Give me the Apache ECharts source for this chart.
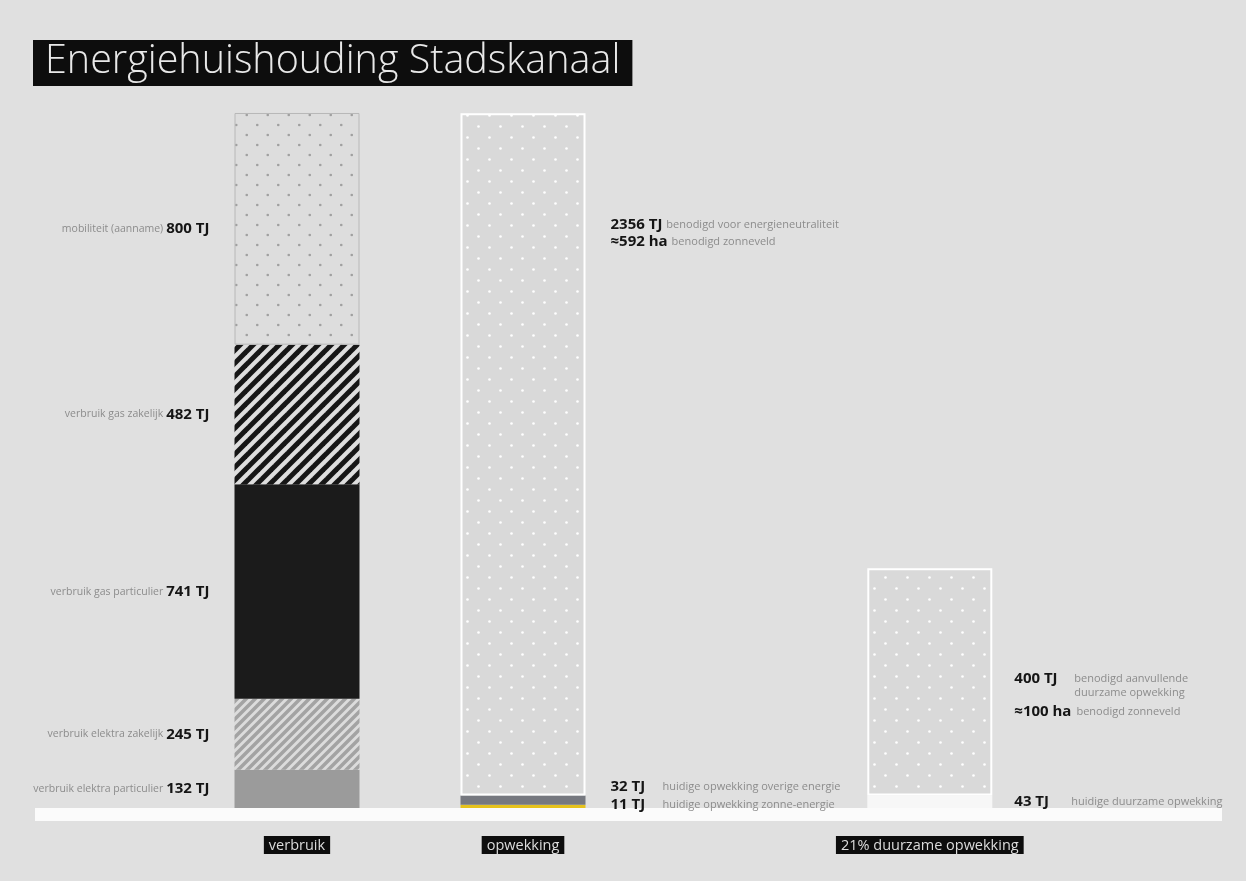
<!DOCTYPE html>
<html>
<head>
<meta charset="utf-8">
<script src="https://cdn.jsdelivr.net/npm/echarts@6/dist/echarts.min.js"></script>
<style>
html,body{margin:0;padding:0;background:#e0e0e0;}
#c{width:1246px;height:881px;}
</style>
</head>
<body>
<div id="c"></div>
<script>
// ---- data ----
const titleText = 'Energiehuishouding Stadskanaal';
const categories = ['verbruik', 'opwekking', '21% duurzame opwekking'];

const verbruikLabels = ['verbruik elektra particulier', 'verbruik elektra zakelijk', 'verbruik gas particulier', 'verbruik gas zakelijk', 'mobiliteit (aanname)'];
const verbruikValues = [132, 245, 741, 482, 800];

const opwekkingLabels = ['huidige opwekking zonne-energie', 'huidige opwekking overige energie', 'benodigd voor energieneutraliteit'];
const opwekkingValues = [11, 32, 2356];
const opwekkingHa = 592;

const duurzaamLabels = ['huidige duurzame opwekking', 'benodigd aanvullende|duurzame opwekking'];
const duurzaamLabelValues = [43, 400];
const duurzaamBarValues = [43, 785];   // bar heights as drawn in the picture
const duurzaamHa = 100;

// ---- patterns ----
function dots(bg, dot, w, h, r) {
  const c = document.createElement('canvas'); c.width = w; c.height = h;
  const g = c.getContext('2d');
  g.fillStyle = bg; g.fillRect(0, 0, w, h);
  g.fillStyle = dot;
  [[w / 4, h / 4], [3 * w / 4, 3 * h / 4]].forEach(p => { g.beginPath(); g.arc(p[0], p[1], r, 0, Math.PI * 2); g.fill(); });
  return { image: c, repeat: 'repeat' };
}
function stripes(bg, fg, s, lw) {
  const c = document.createElement('canvas'); c.width = s; c.height = s;
  const g = c.getContext('2d');
  g.fillStyle = bg; g.fillRect(0, 0, s, s);
  g.strokeStyle = fg; g.lineWidth = lw;
  [[0, s, s, 0], [-s / 2, s / 2, s / 2, -s / 2], [s / 2, 3 * s / 2, 3 * s / 2, s / 2]].forEach(l => {
    g.beginPath(); g.moveTo(l[0], l[1]); g.lineTo(l[2], l[3]); g.stroke();
  });
  return { image: c, repeat: 'repeat' };
}

const verbruikFills = [
  { color: '#9b9b9b' },
  { color: stripes('#dcdcdc', '#a3a3a3', 9, 3.5) },
  { color: '#1b1b1b' },
  { color: stripes('#dedede', '#161616', 13, 5) },
  { color: dots('#dddddd', '#a0a0a0', 21, 20, 1.3), borderColor: '#b8b8b8', borderWidth: 1 }
];
const opwekkingFills = [
  { color: '#e6c21c' },
  { color: '#76787f' },
  { color: dots('#d9d9d9', '#ffffff', 22, 22, 1.3), borderColor: '#ffffff', borderWidth: 2 }
];
const duurzaamFills = [
  { color: '#f7f7f7' },
  { color: dots('#d9d9d9', '#ffffff', 22, 22, 1.3), borderColor: '#ffffff', borderWidth: 2 }
];

// ---- layout ----
const N = 17;
const SLOT = [1, 6, 15];
function at(slot, v) { const a = new Array(N).fill('-'); a[slot] = v; return a; }
const axisNames = new Array(N).fill('');
SLOT.forEach((s, i) => axisNames[s] = categories[i]);

const FONT = 'Open Sans';
const GRAY = '#8c8c8c';
const richBase = {
  s: { fontFamily: FONT, fontSize: 10.5, color: GRAY, padding: [0, 3, 0, 0] },
  b: { fontFamily: FONT, fontSize: 15, fontWeight: 'bold', color: '#151515' }
};

const series = [];
verbruikValues.forEach((v, i) => {
  series.push({
    type: 'bar', stack: 's', barWidth: 125, data: at(SLOT[0], v),
    itemStyle: verbruikFills[i],
    label: {
      show: true, position: 'left', distance: 25,
      formatter: () => `{s|${verbruikLabels[i]}}{b|${v} TJ}`,
      rich: richBase
    }
  });
});

const B = { fontFamily: FONT, fontSize: 15, fontWeight: 'bold', color: '#151515' };
const S = { fontFamily: FONT, fontSize: 11, color: GRAY };
const richRight = {
  s: Object.assign({}, S, { lineHeight: 17 }),
  b: Object.assign({}, B, { lineHeight: 17, padding: [0, 4, 0, 0] }),
  b52: Object.assign({}, B, { width: 52, lineHeight: 17 }),
  b57: Object.assign({}, B, { width: 57, lineHeight: 17 }),
  b60: Object.assign({}, B, { width: 60, lineHeight: 14 }),
  s14: Object.assign({}, S, { lineHeight: 14 }),
  bh: Object.assign({}, B, { padding: [0, 5, 0, 0], lineHeight: 24 }),
  sh: Object.assign({}, S, { lineHeight: 24 })
};

opwekkingValues.forEach((v, i) => {
  let label;
  if (i === 2) {
    label = {
      show: true, position: ['100%', 103], offset: [25, 0], align: 'left', verticalAlign: 'top',
      formatter: () => `{b|${v} TJ}{s|${opwekkingLabels[i]}}\n{b|≈${opwekkingHa} ha}{s|benodigd zonneveld}`,
      rich: richRight
    };
  } else {
    label = {
      show: true, position: 'right', distance: 25, offset: [0, i === 1 ? -13 : -2],
      formatter: () => `{b52|${v} TJ}{s|${opwekkingLabels[i]}}`,
      rich: richRight
    };
  }
  series.push({ type: 'bar', stack: 's', barWidth: 125, data: at(SLOT[1], v), itemStyle: opwekkingFills[i], label });
});

duurzaamBarValues.forEach((v, i) => {
  let label;
  if (i === 1) {
    const parts = duurzaamLabels[i].split('|');
    label = {
      show: true, position: ['100%', 104], offset: [22, 0], align: 'left', verticalAlign: 'top',
      formatter: () => `{b60|${duurzaamLabelValues[i]} TJ}{s14|${parts[0]}}\n{b60|}{s14|${parts[1]}}\n{bh|≈${duurzaamHa} ha}{sh|benodigd zonneveld}`,
      rich: richRight
    };
  } else {
    label = {
      show: true, position: 'right', distance: 22,
      formatter: () => `{b57|${duurzaamLabelValues[i]} TJ}{s|${duurzaamLabels[i]}}`,
      rich: richRight
    };
  }
  series.push({ type: 'bar', stack: 's', barWidth: 124, data: at(SLOT[2], v), itemStyle: duurzaamFills[i], label });
});

const chart = echarts.init(document.getElementById('c'));
chart.setOption({
  backgroundColor: '#e0e0e0',
  animation: false,
  title: {
    text: titleText, left: 33, top: 40,
    backgroundColor: '#0d0d0d', padding: [2, 12, 4, 12],
    textStyle: { fontFamily: FONT, fontSize: 39.5, fontWeight: 300, color: '#e8e8e8' }
  },
  grid: { left: 229.2, right: 248.4, top: 113, bottom: 73, containLabel: false },
  xAxis: {
    type: 'category', data: axisNames,
    axisLine: { show: false }, axisTick: { show: false },
    axisLabel: {
      interval: 0, margin: 28,
      formatter: v => v ? `{a|${v}}` : '',
      rich: { a: { backgroundColor: '#0d0d0d', color: '#dcdcdc', fontFamily: FONT, fontSize: 14.5, padding: [2, 5, 1, 5] } }
    }
  },
  yAxis: { type: 'value', min: 0, max: 2400, show: false, splitLine: { show: false } },
  graphic: [{
    type: 'rect', left: 35, top: 808, z: 1,
    shape: { width: 1187, height: 13 }, style: { fill: '#fbfbfb' }, silent: true
  }],
  series: series.map(s => Object.assign(s, { emphasis: { disabled: true }, silent: true }))
});
</script>
</body>
</html>
